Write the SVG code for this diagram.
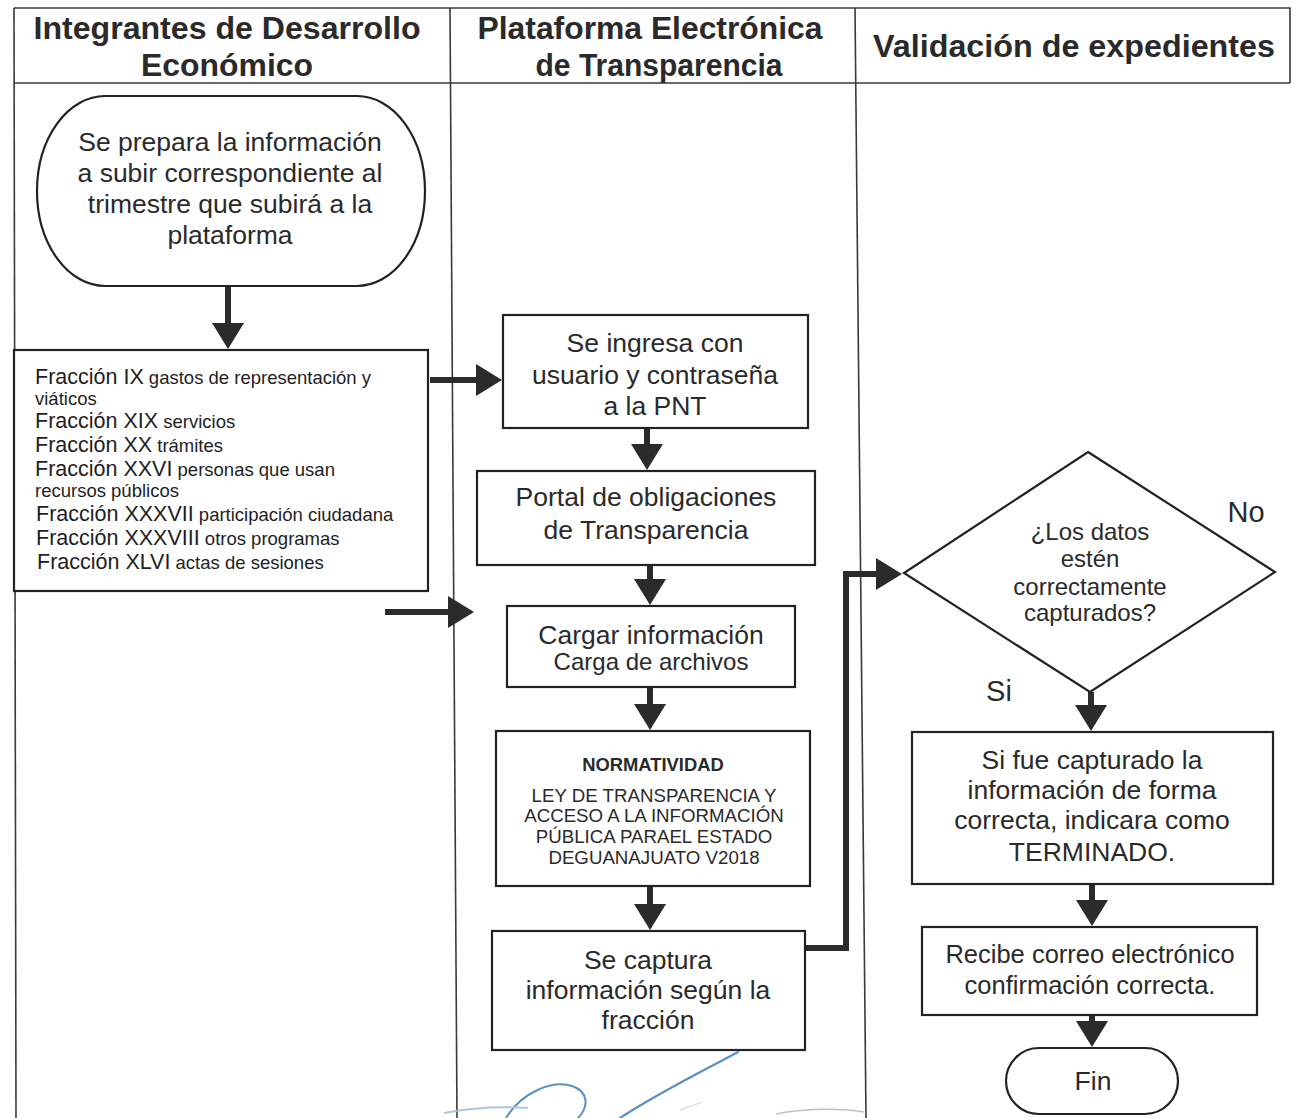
<svg xmlns="http://www.w3.org/2000/svg" width="1296" height="1118" viewBox="0 0 1296 1118">
  <style>
    .lane { stroke: #3a3a3a; stroke-width: 1.6; fill: none; }
    .box { fill: #fff; stroke: #222; stroke-width: 2.2; }
    .hd { font-family: "Liberation Sans", Arial, sans-serif; font-weight: bold; font-size: 32px; fill: #2a2a2a; text-anchor: middle; }
    .t { font-family: "Liberation Sans", Arial, sans-serif; font-size: 26.5px; fill: #2a2a2a; text-anchor: middle; }
    .q { font-size: 24px; }
    .fr { font-family: "Liberation Sans", Arial, sans-serif; fill: #1e1e1e; }
    .big { font-size: 21.5px; }
    .sm { font-size: 18.5px; }
    .nm { font-family: "Liberation Sans", Arial, sans-serif; font-size: 18.7px; fill: #2a2a2a; text-anchor: middle; }
    .lbl { font-family: "Liberation Sans", Arial, sans-serif; font-size: 29px; fill: #2a2a2a; text-anchor: middle; }
    .flow { fill: none; stroke: #2b2b2b; stroke-width: 6; marker-end: url(#head); }
    .ink { fill: none; stroke: #3d7fb8; stroke-linecap: round; }
  </style>
  <defs>
    <marker id="head" viewBox="0 0 26 32" refX="1" refY="16" markerWidth="26" markerHeight="32" markerUnits="userSpaceOnUse" orient="auto">
      <path d="M0,0 L26,16 L0,32 z" fill="#2b2b2b"/>
    </marker>
  </defs>

  <rect width="1296" height="1118" fill="#fff"/>

  <!-- swimlane frame -->
  <g id="lanes">
    <path class="lane" d="M14,8 H1290 V83 M14,83 H1290"/>
    <path class="lane" d="M14,8 L16,1118"/>
    <path class="lane" d="M450,8 L457,1118"/>
    <path class="lane" d="M855,8 L866,1118"/>
    <text class="hd" x="227" y="39" textLength="387" lengthAdjust="spacingAndGlyphs">Integrantes de Desarrollo</text>
    <text class="hd" x="227" y="76" textLength="172" lengthAdjust="spacingAndGlyphs">Económico</text>
    <text class="hd" x="650" y="39" textLength="345" lengthAdjust="spacingAndGlyphs">Plataforma Electrónica</text>
    <text class="hd" x="659" y="76" textLength="247" lengthAdjust="spacingAndGlyphs">de Transparencia</text>
    <text class="hd" x="1074" y="57" textLength="402" lengthAdjust="spacingAndGlyphs">Validación de expedientes</text>
  </g>

  <!-- connectors -->
  <g id="connectors">
    <path class="flow" d="M228,287 V324"/>
    <path class="flow" d="M430,380 H477"/>
    <path class="flow" d="M647,428 V445"/>
    <path class="flow" d="M650,565 V580"/>
    <path class="flow" d="M650,687 V705"/>
    <path class="flow" d="M650,886 V905"/>
    <path class="flow" d="M805,948 H846 V574 H877"/>
    <path class="flow" d="M385,612 H449"/>
    <path class="flow" d="M1091,692 V706"/>
    <path class="flow" d="M1092,884 V901"/>
    <path class="flow" d="M1092,1015 V1022"/>
  </g>

  <!-- nodes -->
  <g id="start">
    <rect class="box" x="37" y="96" width="388" height="190" rx="68" ry="95"/>
    <text class="t" x="230" y="151">Se prepara la información</text>
    <text class="t" x="230" y="182">a subir correspondiente al</text>
    <text class="t" x="230" y="213">trimestre que subirá a la</text>
    <text class="t" x="230" y="244">plataforma</text>
  </g>

  <g id="fracciones">
    <rect class="box" x="14" y="350" width="414" height="241"/>
    <text class="fr" x="35" y="384"><tspan class="big">Fracción IX</tspan><tspan class="sm"> gastos de representación y</tspan></text>
    <text class="fr sm" x="35" y="405">viáticos</text>
    <text class="fr" x="35" y="428"><tspan class="big">Fracción XIX</tspan><tspan class="sm"> servicios</tspan></text>
    <text class="fr" x="35" y="452"><tspan class="big">Fracción XX</tspan><tspan class="sm"> trámites</tspan></text>
    <text class="fr" x="35" y="476"><tspan class="big">Fracción XXVI</tspan><tspan class="sm"> personas que usan</tspan></text>
    <text class="fr sm" x="35" y="497">recursos públicos</text>
    <text class="fr" x="36" y="521"><tspan class="big">Fracción XXXVII</tspan><tspan class="sm"> participación ciudadana</tspan></text>
    <text class="fr" x="36" y="545"><tspan class="big">Fracción XXXVIII</tspan><tspan class="sm"> otros programas</tspan></text>
    <text class="fr" x="37" y="569"><tspan class="big">Fracción XLVI</tspan><tspan class="sm"> actas de sesiones</tspan></text>
  </g>

  <g id="ingreso">
    <rect class="box" x="503" y="315" width="305" height="113"/>
    <text class="t" x="655" y="352">Se ingresa con</text>
    <text class="t" x="655" y="384">usuario y contraseña</text>
    <text class="t" x="655" y="415">a la PNT</text>
  </g>

  <g id="portal">
    <rect class="box" x="477" y="471" width="338" height="94"/>
    <text class="t" x="646" y="506">Portal de obligaciones</text>
    <text class="t" x="646" y="539">de Transparencia</text>
  </g>

  <g id="cargar">
    <rect class="box" x="507" y="606" width="288" height="81"/>
    <text class="t" x="651" y="644">Cargar información</text>
    <text class="t q" x="651" y="670">Carga de archivos</text>
  </g>

  <g id="normatividad">
    <rect class="box" x="496" y="731" width="314" height="155"/>
    <text class="nm" x="653" y="771" font-weight="bold" style="font-size:18.4px">NORMATIVIDAD</text>
    <text class="nm" x="654" y="802">LEY DE TRANSPARENCIA Y</text>
    <text class="nm" x="654" y="822">ACCESO A LA INFORMACIÓN</text>
    <text class="nm" x="654" y="843">PÚBLICA PARAEL ESTADO</text>
    <text class="nm" x="654" y="864">DEGUANAJUATO V2018</text>
  </g>

  <g id="captura">
    <rect class="box" x="492" y="931" width="313" height="119"/>
    <text class="t" x="648" y="969">Se captura</text>
    <text class="t" x="648" y="999">información según la</text>
    <text class="t" x="648" y="1029">fracción</text>
  </g>

  <g id="decision">
    <path class="box" d="M1088,452 L1275,572 L1090,692 L904,573 Z"/>
    <text class="t q" x="1090" y="540">¿Los datos</text>
    <text class="t q" x="1090" y="567">estén</text>
    <text class="t q" x="1090" y="595">correctamente</text>
    <text class="t q" x="1090" y="621">capturados?</text>
    <text class="lbl" x="1246" y="522">No</text>
    <text class="lbl" x="999" y="701">Si</text>
  </g>

  <g id="terminado">
    <rect class="box" x="912" y="732" width="361" height="152"/>
    <text class="t" x="1092" y="769">Si fue capturado la</text>
    <text class="t" x="1092" y="799">información de forma</text>
    <text class="t" x="1092" y="829">correcta, indicara como</text>
    <text class="t" x="1092" y="861">TERMINADO.</text>
  </g>

  <g id="correo">
    <rect class="box" x="922" y="927" width="335" height="88"/>
    <text class="t" x="1090" y="963" style="font-size:25.5px">Recibe correo electrónico</text>
    <text class="t" x="1090" y="994" style="font-size:25.5px">confirmación correcta.</text>
  </g>

  <g id="fin">
    <rect class="box" x="1006" y="1048" width="172" height="66" rx="33" ry="33"/>
    <text class="t" x="1093" y="1090">Fin</text>
  </g>

  <!-- signature and stamp edge at the foot of the sheet -->
  <g id="firma" opacity="0.85">
    <path class="ink" stroke-width="2.2" d="M738,1052 C705,1070 660,1092 620,1118"/>
    <path class="ink" stroke-width="2" d="M506,1118 C522,1092 552,1080 572,1086 C590,1092 588,1108 578,1118"/>
    <path fill="none" stroke="#9cc0dc" stroke-width="2" d="M444,1113 C470,1108 500,1106 528,1108"/>
    <path fill="none" stroke="#b5b5b5" stroke-width="1.5" d="M776,1114 C805,1108 840,1108 864,1112"/>
    <path fill="none" stroke="#cfcfcf" stroke-width="1.2" d="M680,1110 L702,1102"/>
  </g>
</svg>
